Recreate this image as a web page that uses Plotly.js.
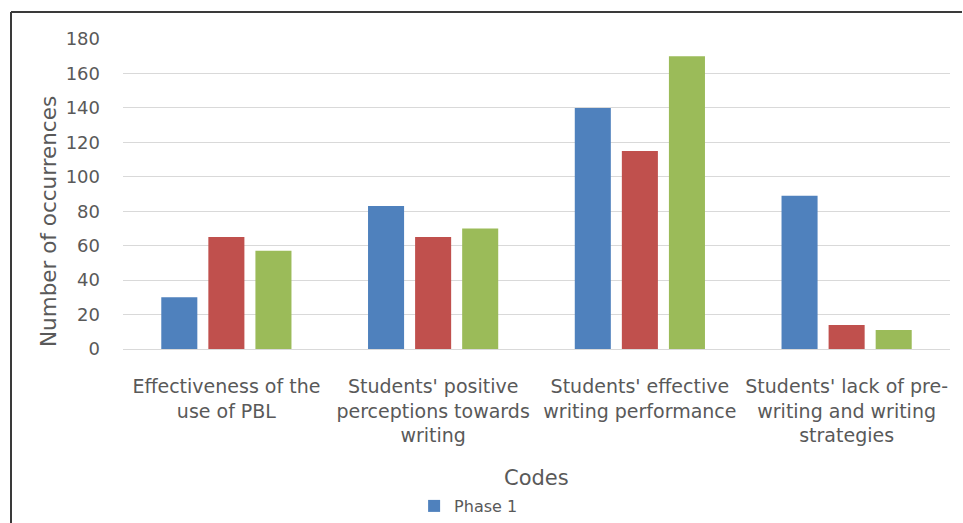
<!DOCTYPE html>
<html>
<head>
<meta charset="utf-8">
<script src="https://cdn.plot.ly/plotly-3.0.1.min.js"></script>
<style>html,body{margin:0;padding:0;background:#fff;}#chart{width:963px;height:523px;}</style>
</head>
<body>
<div id="chart"></div>
<script>
var categories = [
  "Effectiveness of the<br>use of PBL",
  "Students' positive<br>perceptions towards<br>writing",
  "Students' effective<br>writing performance",
  "Students' lack of pre-<br>writing and writing<br>strategies"
];
var phase1 = [30, 83, 140, 89];
var phase2 = [65, 65, 115, 14];
var phase3 = [57, 70, 170, 11];
var seriesNames = ["Phase 1", "Phase 2", "Phase 3"];
var yTicks = [0, 20, 40, 60, 80, 100, 120, 140, 160, 180];

var colors = ["#4F81BD", "#C0504D", "#9BBB59"];
var allSeries = [phase1, phase2, phase3];
var traces = allSeries.map(function (vals, i) {
  return {
    type: "bar",
    x: categories,
    y: vals,
    name: seriesNames[i],
    marker: {color: colors[i]},
    showlegend: i === 0,
    hoverinfo: "x+y+name"
  };
});

var font = "DejaVu Sans, Liberation Sans, sans-serif";
var layout = {
  width: 963,
  height: 523,
  margin: {l: 123, r: 13, t: 39, b: 174},
  paper_bgcolor: "#ffffff",
  plot_bgcolor: "#ffffff",
  barmode: "group",
  bargap: 0.317,
  bargroupgap: 0.234,
  font: {family: font, color: "#595959"},
  xaxis: {
    type: "category",
    tickangle: 0,
    tickfont: {family: font, size: 19, color: "#595959"},
    showgrid: false,
    showline: true,
    linecolor: "#d9d9d9",
    linewidth: 1,
    ticks: "",
    ticklabelstandoff: 20,
    automargin: false
  },
  yaxis: {
    range: [0, 180],
    tickvals: yTicks,
    ticktext: yTicks.map(String),
    tickfont: {family: font, size: 18, color: "#595959"},
    showgrid: true,
    gridcolor: "#d9d9d9",
    gridwidth: 1,
    zeroline: false,
    showline: false,
    ticks: "",
    ticklabelstandoff: 22,
    automargin: false
  },
  legend: {
    orientation: "h",
    x: 0.352,
    xanchor: "left",
    yref: "container",
    y: (523 - 506) / 523,
    yanchor: "middle",
    font: {family: font, size: 16, color: "#595959"},
    bgcolor: "rgba(0,0,0,0)",
    itemwidth: 30
  },
  annotations: [{
    text: "Number of occurrences",
    textangle: -90,
    xref: "paper", yref: "paper",
    x: (48 - 123) / 827, y: (349 - 222) / 310,
    xanchor: "center", yanchor: "middle",
    showarrow: false,
    font: {family: font, size: 21.5, color: "#595959"}
  }, {
    text: "Codes",
    xref: "paper", yref: "paper",
    x: 0.5, y: (349 - 478) / 310,
    xanchor: "center", yanchor: "middle",
    showarrow: false,
    font: {family: font, size: 21, color: "#595959"}
  }],
  shapes: [
    {type: "line", xref: "paper", yref: "paper",
     x0: (11 - 123) / 827, x1: (962 - 123) / 827, y0: (349 - 12) / 310, y1: (349 - 12) / 310,
     line: {color: "#3a3a3a", width: 2}},
    {type: "line", xref: "paper", yref: "paper",
     x0: (11 - 123) / 827, x1: (11 - 123) / 827, y0: (349 - 12) / 310, y1: (349 - 530) / 310,
     line: {color: "#3a3a3a", width: 2}}
  ]
};

Plotly.newPlot("chart", traces, layout, {displayModeBar: false, staticPlot: true});
</script>
</body>
</html>
